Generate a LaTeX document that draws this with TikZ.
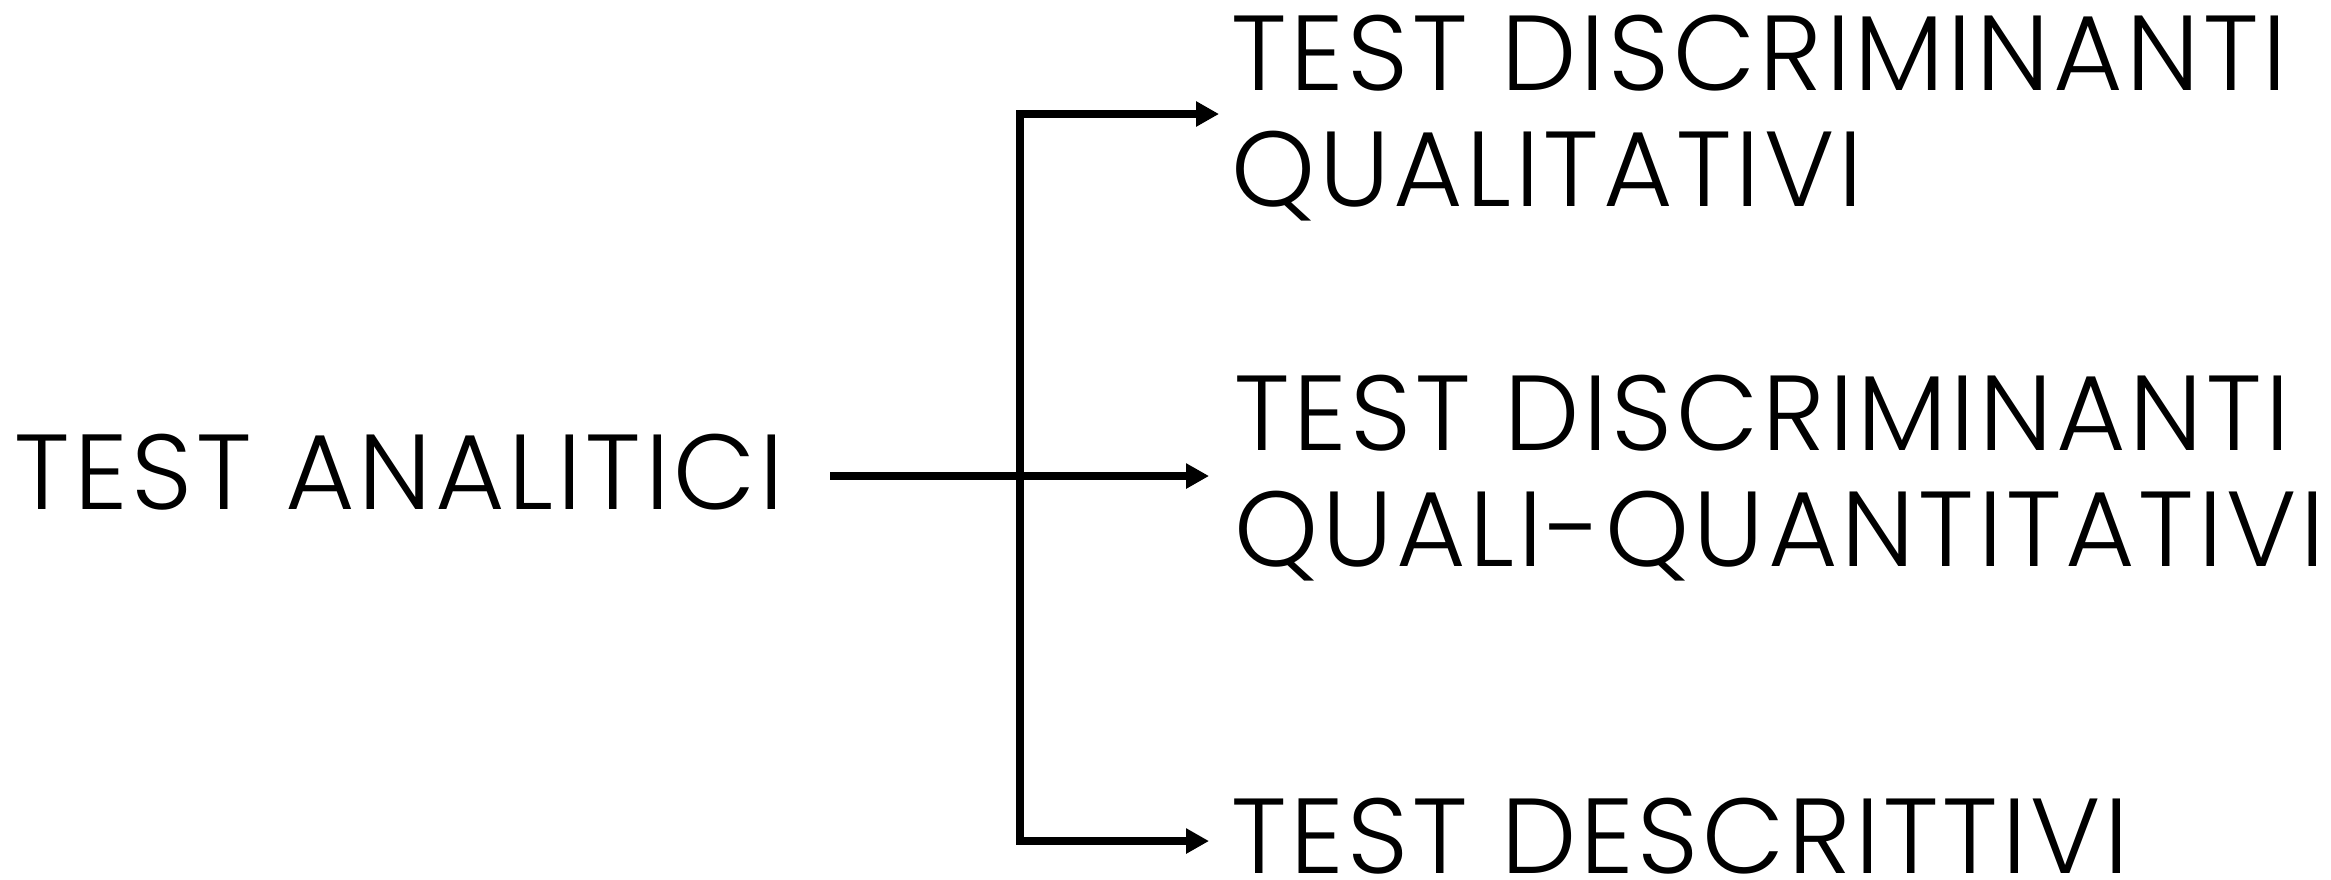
\documentclass[tikz,border=0pt]{standalone}
\usepackage{fontspec}
\setmainfont{Poppins}[UprightFont=* Light,LetterSpace=3.6]
\usetikzlibrary{arrows.meta}
\begin{document}
\begin{tikzpicture}[x=0.3pt,y=-0.3pt,
  lbl/.style={inner sep=0pt,outer sep=0pt,anchor=north west,align=left,
    font=\fontsize{32}{34.8}\selectfont},
  conn/.style={line width=2.3pt},
  arr/.style={conn,-{Triangle[length=6.9pt,width=7.2pt]}}]
\useasboundingbox (0,0) rectangle (2331,879);
\node[lbl] (root) at (15,434) {TEST ANALITICI};
\node[lbl] (t1) at (1231,15) {TEST DISCRIMINANTI\\QUALITATIVI};
\node[lbl] (t2) at (1234,375) {TEST DISCRIMINANTI\\QUALI-QUANTITATIVI};
\node[lbl] (t3) at (1231,798) {TEST DESCRITTIVI};
\coordinate (s) at (830,476);
\coordinate (j) at (1020,476);
\coordinate (e1) at (1219,114);
\coordinate (e2) at (1209,476);
\coordinate (e3) at (1209,841);
\draw[conn] (s) -- (j);
\draw[arr] (j) -- (e2);
\draw[arr] (j) |- (e1);
\draw[arr] (j) |- (e3);
\end{tikzpicture}
\end{document}
